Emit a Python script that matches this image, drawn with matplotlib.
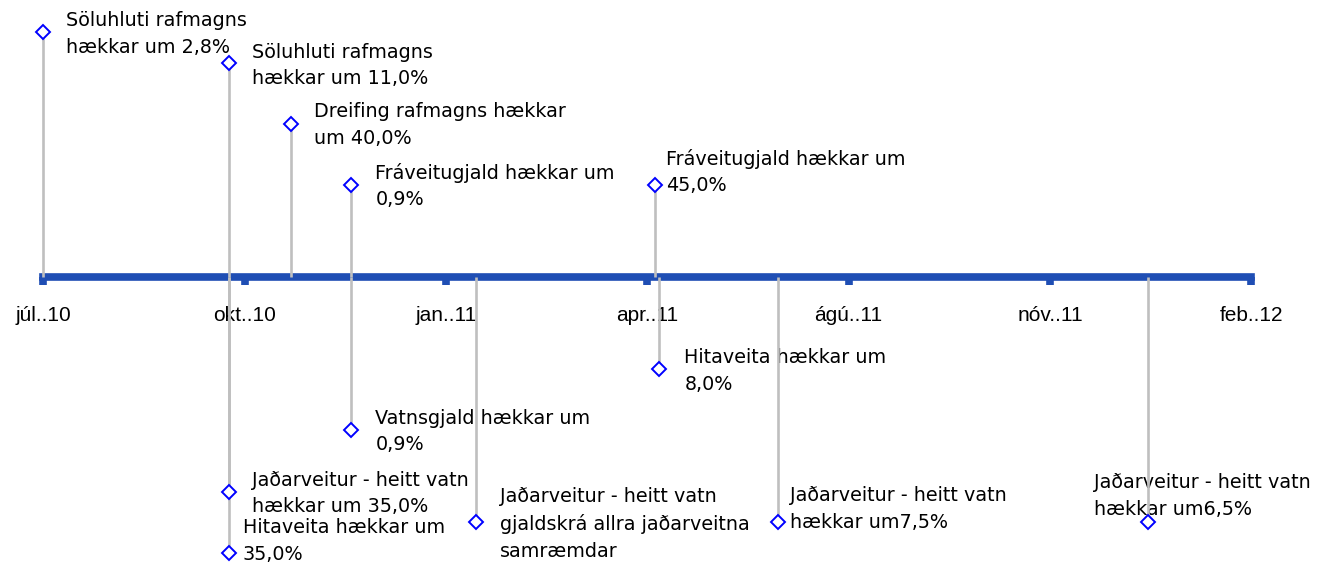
import matplotlib.pyplot as plt

# ---------- data ----------
# x axis: days counted from the first tick (júl..10), ticks every 92 days
tick_days = [0, 92, 184, 276, 368, 460, 552]
tick_labels = ['júl..10', 'okt..10', 'jan..11', 'apr..11', 'ágú..11', 'nóv..11', 'feb..12']

event_days = [0, 84.7, 113.0, 140.7, 279.5, 281.5, 140.7, 84.7, 84.7, 197.7, 335.7, 504.7]
event_heights = [8, 7, 5, 3, 3, -3, -5, -7, -9, -8, -8, -8]
event_labels = [
    'Söluhluti rafmagns\nhækkar um 2,8%',
    'Söluhluti rafmagns\nhækkar um 11,0%',
    'Dreifing rafmagns hækkar\num 40,0%',
    'Fráveitugjald hækkar um\n0,9%',
    'Fráveitugjald hækkar um\n45,0%',
    'Hitaveita hækkar um\n8,0%',
    'Vatnsgjald hækkar um\n0,9%',
    'Jaðarveitur - heitt vatn\nhækkar um 35,0%',
    'Hitaveita hækkar um\n35,0%',
    'Jaðarveitur - heitt vatn\ngjaldskrá allra jaðarveitna\nsamræmdar',
    'Jaðarveitur - heitt vatn\nhækkar um7,5%',
    'Jaðarveitur - heitt vatn\nhækkar um6,5%',
]

# label offsets from the marker, in pixels (labels were moved by hand in the original)
label_offsets = [(23, -2), (23, -3), (23, -1), (24, -1), (11, 13), (25, -2),
                 (24, -1), (23, -2), (14, 12), (24, -2), (12, 13), (-54, 26)]

# ---------- styling ----------
axis_blue = '#1F4EB4'
stem_gray = '#BFBFBF'
marker_blue = '#0000FF'

fig = plt.figure(figsize=(13.19, 5.63), dpi=100)
ax = fig.add_axes([0, 0, 1, 1])
ax.set_xlim(-19.84, 583.0)
ax.set_ylim(-9.33, 9.04)

# stems + markers
ax.vlines(event_days, 0, event_heights, color=stem_gray, linewidth=1.9, zorder=3)
ax.plot(event_days, event_heights, linestyle='none', marker='D', markersize=7.5,
        markerfacecolor='white', markeredgecolor=marker_blue, markeredgewidth=1.4, zorder=4)

for x, y, txt, (dx, dy) in zip(event_days, event_heights, event_labels, label_offsets):
    ax.annotate(txt, (x, y), xytext=(dx, dy), textcoords='offset pixels',
                ha='left', va='center', fontsize=13.8, linespacing=1.5,
                family='DejaVu Sans', color='black', zorder=2)

# time axis drawn as the bottom spine through y=0
for side in ['top', 'left', 'right']:
    ax.spines[side].set_visible(False)
ax.spines['bottom'].set_position(('data', 0))
ax.spines['bottom'].set_bounds(tick_days[0], tick_days[-1])
ax.spines['bottom'].set_color(axis_blue)
ax.spines['bottom'].set_linewidth(5.5)
ax.spines['bottom'].set_zorder(2.5)

ax.set_xticks(tick_days)
ax.set_xticklabels(tick_labels, fontsize=15, family='Liberation Sans')
ax.tick_params(axis='x', direction='out', length=6, width=5.5, color=axis_blue, pad=15)
ax.set_yticks([])

fig.savefig('out.png', dpi=100, facecolor='white')
